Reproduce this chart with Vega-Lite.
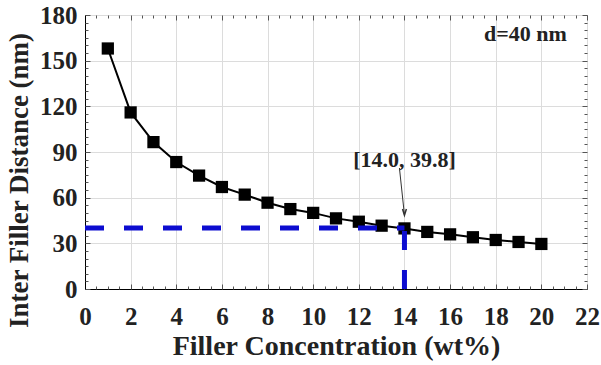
{
  "$schema": "https://vega.github.io/schema/vega-lite/v6.json",
  "width": 502,
  "height": 274,
  "autosize": {"type": "none"},
  "padding": {"left": 85, "top": 15, "right": 14, "bottom": 76},
  "background": "white",
  "config": {
    "view": {"stroke": "black", "strokeWidth": 1},
    "font": "Liberation Serif",
    "axis": {
      "labelFont": "Liberation Serif",
      "labelFontWeight": "bold",
      "labelFontSize": 25,
      "labelColor": "#222222",
      "titleFont": "Liberation Serif",
      "titleFontWeight": "bold",
      "titleFontSize": 28,
      "titleColor": "#222222",
      "domainColor": "black",
      "tickColor": "#555555",
      "gridColor": "#dcdcdc",
      "gridWidth": 1
    }
  },
  "datasets": {
    "curve": [
      {"c": 1, "d": 158}, {"c": 2, "d": 116}, {"c": 3, "d": 96.5}, {"c": 4, "d": 83.4},
      {"c": 5, "d": 74.5}, {"c": 6, "d": 67}, {"c": 7, "d": 62}, {"c": 8, "d": 56.7},
      {"c": 9, "d": 52.5}, {"c": 10, "d": 50}, {"c": 11, "d": 46.4}, {"c": 12, "d": 44.2},
      {"c": 13, "d": 41.6}, {"c": 14, "d": 39.8}, {"c": 15, "d": 37.5}, {"c": 16, "d": 35.9},
      {"c": 17, "d": 34}, {"c": 18, "d": 32.2}, {"c": 19, "d": 30.9}, {"c": 20, "d": 29.6}
    ],
    "hline": [{"x0": 0, "x1": 14, "y": 40}],
    "vline": [{"x": 14, "y0": 0, "y1": 40}],
    "labels": [
      {"x": 14, "y": 84.5, "t": "[14.0, 39.8]"},
      {"x": 19.3, "y": 167.5, "t": "d=40 nm"}
    ],
    "arrow": [{"x": 13.78, "y": 79.5}, {"x": 14, "y": 48.5}],
    "tip": [{"x": 14, "y": 50}]
  },
  "layer": [
    {
      "data": {"name": "curve"},
      "mark": {"type": "line", "color": "black", "strokeWidth": 2},
      "encoding": {
        "x": {"field": "c", "type": "quantitative", "scale": {"domain": [0, 22], "nice": false},
          "axis": {"orient": "bottom", "title": "Filler Concentration (wt%)", "values": [0,2,4,6,8,10,12,14,16,18,20,22],
            "ticks": false, "labelPadding": 15, "grid": true, "titleY": 57, "titleBaseline": "middle", "labelFlush": false}},
        "y": {"field": "d", "type": "quantitative", "scale": {"domain": [0, 180], "nice": false},
          "axis": {"orient": "left", "title": "Inter Filler Distance (nm)", "values": [0,30,60,90,120,150,180],
            "ticks": false, "labelPadding": 8, "grid": true, "titleFontSize": 27, "titleX": -66, "titleY": 165, "titleAlign": "center", "titleBaseline": "middle", "titleAngle": -90, "labelFlush": false}}
      }
    },
    {
      "data": {"name": "curve"},
      "mark": {"type": "point", "shape": "square", "filled": true, "color": "black", "size": 150, "opacity": 1},
      "encoding": {
        "x": {"field": "c", "type": "quantitative", "scale": {"domain": [0, 22], "nice": false},
          "axis": {"orient": "bottom", "title": null, "values": [0,2,4,6,8,10,12,14,16,18,20,22], "labels": false, "grid": false, "domain": false, "tickSize": -5}},
        "y": {"field": "d", "type": "quantitative", "scale": {"domain": [0, 180], "nice": false},
          "axis": {"orient": "left", "title": null, "values": [0,30,60,90,120,150,180], "labels": false, "grid": false, "domain": false, "tickSize": -5}}
      }
    },
    {
      "data": {"name": "hline"},
      "mark": {"type": "rule", "color": "#0c0cd0", "strokeWidth": 5, "strokeDash": [19, 20]},
      "encoding": {
        "x": {"field": "x0", "type": "quantitative", "scale": {"domain": [0, 22], "nice": false},
          "axis": {"orient": "top", "title": null, "values": [0,2,4,6,8,10,12,14,16,18,20,22], "labels": false, "grid": false, "domain": false, "tickSize": -5}},
        "x2": {"field": "x1"},
        "y": {"field": "y", "type": "quantitative", "scale": {"domain": [0, 180], "nice": false},
          "axis": {"orient": "right", "title": null, "values": [0,30,60,90,120,150,180], "labels": false, "grid": false, "domain": false, "tickSize": -5}}
      }
    },
    {
      "data": {"name": "vline"},
      "mark": {"type": "rule", "color": "#0c0cd0", "strokeWidth": 5, "strokeDash": [19, 20]},
      "encoding": {
        "x": {"field": "x", "type": "quantitative", "scale": {"domain": [0, 22], "nice": false},
          "axis": {"orient": "bottom", "title": null, "values": [0.5,1,1.5,2.5,3,3.5,4.5,5,5.5,6.5,7,7.5,8.5,9,9.5,10.5,11,11.5,12.5,13,13.5,14.5,15,15.5,16.5,17,17.5,18.5,19,19.5,20.5,21,21.5], "labels": false, "grid": false, "domain": false, "tickSize": -3}},
        "y": {"field": "y0", "type": "quantitative", "scale": {"domain": [0, 180], "nice": false},
          "axis": {"orient": "left", "title": null, "values": [5,10,15,20,25,35,40,45,50,55,65,70,75,80,85,95,100,105,110,115,125,130,135,140,145,155,160,165,170,175], "labels": false, "grid": false, "domain": false, "tickSize": -3}},
        "y2": {"field": "y1"}
      }
    },
    {
      "data": {"name": "labels"},
      "mark": {"type": "text", "font": "Liberation Serif", "fontWeight": "bold", "fontSize": 22, "color": "#222222", "align": "center", "baseline": "middle"},
      "encoding": {
        "x": {"field": "x", "type": "quantitative", "scale": {"domain": [0, 22], "nice": false},
          "axis": {"orient": "top", "title": null, "values": [0.5,1,1.5,2.5,3,3.5,4.5,5,5.5,6.5,7,7.5,8.5,9,9.5,10.5,11,11.5,12.5,13,13.5,14.5,15,15.5,16.5,17,17.5,18.5,19,19.5,20.5,21,21.5], "labels": false, "grid": false, "domain": false, "tickSize": -3}},
        "y": {"field": "y", "type": "quantitative", "scale": {"domain": [0, 180], "nice": false},
          "axis": {"orient": "right", "title": null, "values": [5,10,15,20,25,35,40,45,50,55,65,70,75,80,85,95,100,105,110,115,125,130,135,140,145,155,160,165,170,175], "labels": false, "grid": false, "domain": false, "tickSize": -3}},
        "text": {"field": "t", "type": "nominal"}
      }
    },
    {
      "data": {"name": "arrow"},
      "mark": {"type": "line", "color": "#333333", "strokeWidth": 1},
      "encoding": {
        "x": {"field": "x", "type": "quantitative", "scale": {"domain": [0, 22], "nice": false}, "axis": null},
        "y": {"field": "y", "type": "quantitative", "scale": {"domain": [0, 180], "nice": false}, "axis": null}
      }
    },
    {
      "data": {"name": "tip"},
      "mark": {"type": "point", "shape": "M-0.5,-1L0,0.6L0.5,-1", "filled": false, "stroke": "#333333", "strokeWidth": 1.5, "size": 60, "opacity": 1},
      "encoding": {
        "x": {"field": "x", "type": "quantitative", "scale": {"domain": [0, 22], "nice": false}, "axis": null},
        "y": {"field": "y", "type": "quantitative", "scale": {"domain": [0, 180], "nice": false}, "axis": null}
      }
    }
  ],
  "resolve": {"axis": {"x": "independent", "y": "independent"}}
}
